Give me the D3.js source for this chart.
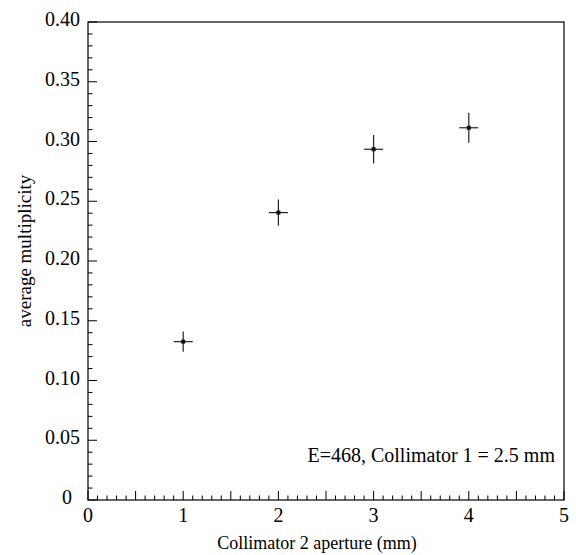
<!DOCTYPE html>
<html>
<head>
<meta charset="utf-8">
<script src="https://cdn.jsdelivr.net/npm/d3@7"></script>
<style>
  body { margin: 0; background: #fff; }
  svg { display: block; font-family: "Liberation Serif", "Times New Roman", serif; }
</style>
</head>
<body>
<svg id="chart" width="576" height="555"></svg>
<script>
// Average multiplicity vs. collimator 2 aperture
const apertures = [1, 2, 3, 4];
const multiplicity = [0.1325, 0.2405, 0.2935, 0.3115];
const yErrors = [0.0084, 0.0110, 0.0120, 0.0125];
const xErrors = [0.1, 0.1, 0.1, 0.1];
const xTickLabels = ["0", "1", "2", "3", "4", "5"];
const yTickLabels = ["0", "0.05", "0.10", "0.15", "0.20", "0.25", "0.30", "0.35", "0.40"];

const svg = d3.select("#chart");
const plotLeft = 88, plotRight = 564, plotTop = 22, plotBottom = 500;

const x = d3.scaleLinear().domain([0, 5]).range([plotLeft, plotRight]);
const y = d3.scaleLinear().domain([0, 0.4]).range([plotBottom, plotTop]);

// frame
svg.append("rect")
  .attr("x", plotLeft).attr("y", plotTop)
  .attr("width", plotRight - plotLeft).attr("height", plotBottom - plotTop)
  .attr("fill", "none").attr("stroke", "#000").attr("stroke-width", 1.2);

// x axis: major ticks every 0.5, minor every 0.1, pointing inward
const xMinor = d3.range(0, 51).map(i => i / 10);
svg.append("g").selectAll("line").data(xMinor).join("line")
  .attr("x1", d => x(d)).attr("x2", d => x(d))
  .attr("y1", plotBottom)
  .attr("y2", (d, i) => plotBottom - (i % 5 === 0 ? 9 : 4.5))
  .attr("stroke", "#000").attr("stroke-width", 1);

svg.append("g").selectAll("text").data(xTickLabels).join("text")
  .attr("x", (d, i) => x(i)).attr("y", 522)
  .attr("text-anchor", "middle")
  .attr("font-size", 20)
  .text(d => d);

// y axis: major ticks every 0.05, minor every 0.01
const yMinor = d3.range(0, 41).map(i => i / 100);
svg.append("g").selectAll("line").data(yMinor).join("line")
  .attr("y1", d => y(d)).attr("y2", d => y(d))
  .attr("x1", plotLeft)
  .attr("x2", (d, i) => plotLeft + (i % 5 === 0 ? 9 : 4.5))
  .attr("stroke", "#000").attr("stroke-width", 1);

svg.append("g").selectAll("text").data(yTickLabels).join("text")
  .attr("x", (d, i) => i === 0 ? 72 : 80)
  .attr("y", (d, i) => y(i * 0.05) + 4)
  .attr("text-anchor", "end")
  .attr("font-size", 20)
  .text(d => d);

// axis titles
svg.append("text")
  .attr("x", 317).attr("y", 549)
  .attr("text-anchor", "middle")
  .attr("font-size", 18)
  .text("Collimator 2 aperture (mm)");

svg.append("text")
  .attr("transform", "translate(31,251) rotate(-90)")
  .attr("text-anchor", "middle")
  .attr("font-size", 19)
  .text("average multiplicity");

// annotation
svg.append("text")
  .attr("x", 555).attr("y", 462)
  .attr("text-anchor", "end")
  .attr("font-size", 20)
  .text("E=468, Collimator 1 = 2.5 mm");

// data points with error bars
const pts = apertures.map((a, i) => ({ a, m: multiplicity[i], ey: yErrors[i], ex: xErrors[i] }));
const g = svg.append("g");
g.selectAll("line.ex").data(pts).join("line").attr("class", "ex")
  .attr("x1", d => x(d.a - d.ex)).attr("x2", d => x(d.a + d.ex))
  .attr("y1", d => y(d.m)).attr("y2", d => y(d.m))
  .attr("stroke", "#222").attr("stroke-width", 1.2);
g.selectAll("line.ey").data(pts).join("line").attr("class", "ey")
  .attr("x1", d => x(d.a)).attr("x2", d => x(d.a))
  .attr("y1", d => y(d.m - d.ey)).attr("y2", d => y(d.m + d.ey))
  .attr("stroke", "#222").attr("stroke-width", 1.2);
g.selectAll("rect.pt").data(pts).join("rect").attr("class", "pt")
  .attr("x", d => x(d.a) - 2).attr("y", d => y(d.m) - 2)
  .attr("width", 4).attr("height", 4)
  .attr("fill", "#111");
</script>
</body>
</html>
